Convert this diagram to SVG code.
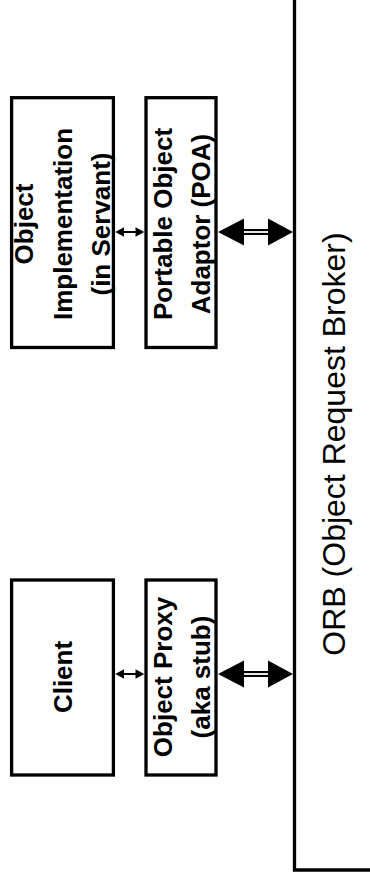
<svg xmlns="http://www.w3.org/2000/svg" width="370" height="886" viewBox="0 0 370 886">
<style>
.box{fill:#fff;stroke:#000;stroke-width:3.3}
.lbl{font-family:"Liberation Sans",Arial,sans-serif;font-weight:bold;font-size:26px;text-anchor:middle;fill:#000}
.orb{font-family:"Liberation Sans",Arial,sans-serif;font-size:32px;text-anchor:middle;fill:#000}
.thin{stroke:#000;stroke-width:2;fill:none}
.shaft{stroke:#000;stroke-width:6;fill:none}
.shaftin{stroke:#fff;stroke-width:1.8;fill:none}
</style>
<rect width="370" height="886" fill="#fff"/>
<g id="orb">
<path d="M294.5,0 V870 H370" fill="none" stroke="#000" stroke-width="3.3"/>
<text class="orb" transform="translate(345,444) rotate(-90)">ORB (Object Request Broker)</text>
</g>
<g id="impl">
<rect class="box" x="11.6" y="97.7" width="101.8" height="249.8"/>
<text class="lbl" transform="translate(33,224) rotate(-90)">Object</text>
<text class="lbl" transform="translate(71.5,224) rotate(-90)">Implementation</text>
<text class="lbl" transform="translate(110,224) rotate(-90)">(in Servant)</text>
</g>
<g id="poa">
<rect class="box" x="146" y="97.7" width="70" height="249.8"/>
<text class="lbl" transform="translate(171.7,224) rotate(-90)">Portable Object</text>
<text class="lbl" transform="translate(210.3,224) rotate(-90)">Adaptor (POA)</text>
</g>
<g id="client">
<rect class="box" x="11.6" y="580" width="101.8" height="195"/>
<text class="lbl" transform="translate(72,677) rotate(-90)">Client</text>
</g>
<g id="proxy">
<rect class="box" x="146" y="580" width="70" height="195"/>
<text class="lbl" transform="translate(171.7,677) rotate(-90)">Object Proxy</text>
<text class="lbl" transform="translate(210.3,677) rotate(-90)">(aka stub)</text>
</g>
<g id="connectors">
<g id="impl-poa">
<line class="thin" x1="120" y1="232" x2="138" y2="232"/>
<polygon points="115.3,232 124,227.3 124,236.7"/>
<polygon points="144.3,232 135.5,227.3 135.5,236.7"/>
</g>
<g id="client-proxy">
<line class="thin" x1="120" y1="674" x2="138" y2="674"/>
<polygon points="115.3,674 124,669.3 124,678.7"/>
<polygon points="144.3,674 135.5,669.3 135.5,678.7"/>
</g>
<g id="poa-orb">
<line class="shaft" x1="242" y1="232" x2="270" y2="232"/>
<line class="shaftin" x1="242" y1="232" x2="270" y2="232"/>
<polygon points="218,232 244,218.5 244,245.5"/>
<polygon points="293,232 268,218.5 268,245.5"/>
</g>
<g id="proxy-orb">
<line class="shaft" x1="242" y1="674" x2="270" y2="674"/>
<line class="shaftin" x1="242" y1="674" x2="270" y2="674"/>
<polygon points="218,674 244,660.5 244,687.5"/>
<polygon points="293,674 268,660.5 268,687.5"/>
</g>
</g>
</svg>
